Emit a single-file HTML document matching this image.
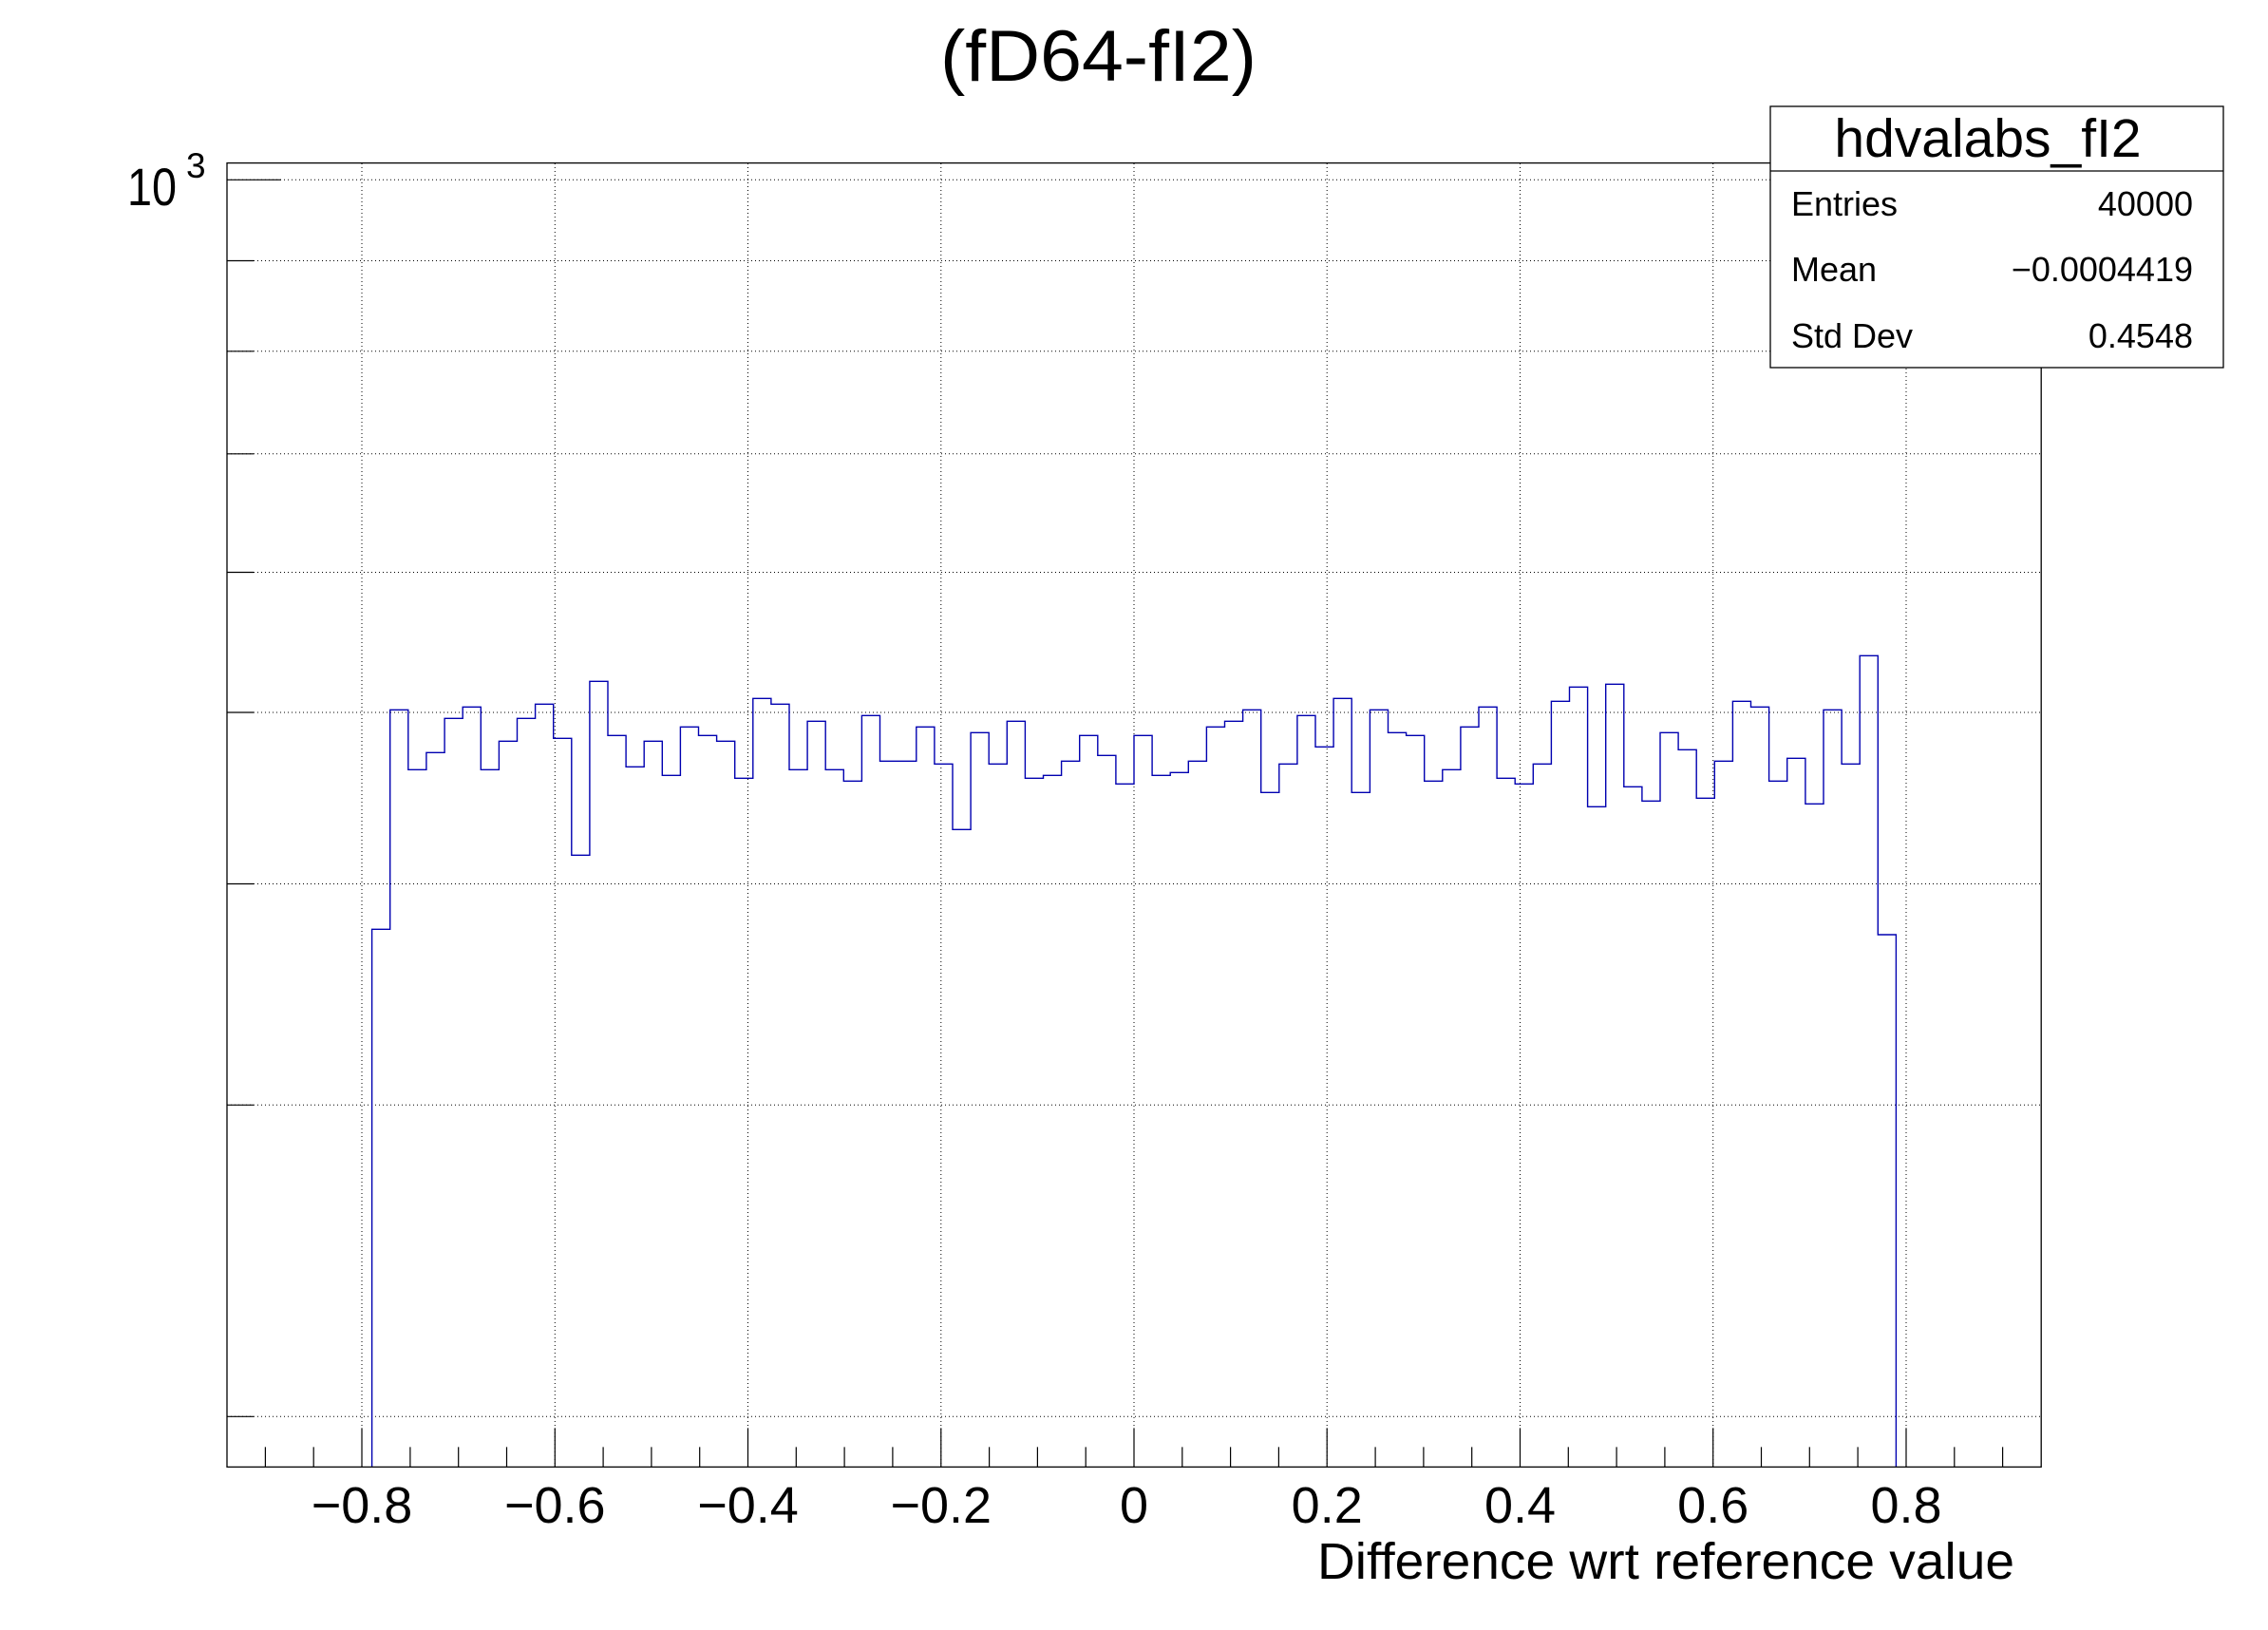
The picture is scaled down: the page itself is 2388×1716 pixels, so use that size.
<!DOCTYPE html>
<html>
<head>
<meta charset="utf-8">
<style>
html,body{margin:0;padding:0;background:#fff;}
svg{display:block;}
text{font-family:"Liberation Sans",Arial,sans-serif;fill:#000;}
</style>
</head>
<body>
<svg width="2388" height="1716" viewBox="0 0 2388 1716" xmlns="http://www.w3.org/2000/svg">
<rect x="0" y="0" width="2388" height="1716" fill="#fff"/>

<!-- Grid (dotted) -->
<g stroke="#000" stroke-width="1" stroke-dasharray="1 3" fill="none">
  <path d="M381,172V1544M584.3,172V1544M787.5,172V1544M990.8,172V1544M1194,172V1544M1397.2,172V1544M1600.5,172V1544M1803.7,172V1544M2007,172V1544"/>
  <path d="M239,189.3H2149M239,274.5H2149M239,369.8H2149M239,477.8H2149M239,602.5H2149M239,750H2149M239,930.5H2149M239,1163.3H2149M239,1491.3H2149"/>
</g>

<!-- Histogram -->
<path fill="none" stroke="#0000b0" stroke-width="1.4" d="M391.6,1544.4V978.3H410.7V747.3H429.8V810.3H448.9V792.3H468.1V756.3H487.2V744.3H506.3V810.3H525.4V780.3H544.5V756.3H563.6V741.3H582.7V777.3H601.8V900.3H620.9V717.3H640V774.3H659.1V807.3H678.2V780.3H697.3V816.3H716.4V765.3H735.5V774.3H754.6V780.3H773.7V819.3H792.8V735.3H811.9V741.3H831V810.3H850.1V759.3H869.2V810.3H888.3V822.3H907.4V753.3H926.5V801.3H945.6V801.3H964.8V765.3H983.9V804.3H1003V873.3H1022.1V771.3H1041.2V804.3H1060.3V759.3H1079.4V819.3H1098.5V816.3H1117.6V801.3H1136.7V774.3H1155.8V795.3H1174.9V825.3H1194V774.3H1213.1V816.3H1232.2V813.3H1251.3V801.3H1270.4V765.3H1289.5V759.3H1308.6V747.3H1327.7V834.3H1346.8V804.3H1365.9V753.3H1385V786.3H1404.1V735.3H1423.2V834.3H1442.4V747.3H1461.5V771.3H1480.6V774.3H1499.7V822.3H1518.8V810.3H1537.9V765.3H1557V744.3H1576.1V819.3H1595.2V825.3H1614.3V804.3H1633.4V738.3H1652.5V723.3H1671.6V849.3H1690.7V720.3H1709.8V828.3H1728.9V843.3H1748V771.3H1767.1V789.3H1786.2V840.3H1805.3V801.3H1824.4V738.3H1843.5V744.3H1862.6V822.3H1881.7V798.3H1900.9V846.3H1920V747.3H1939.1V804.3H1958.2V690.3H1977.3V984H1996.4V1544.4"/>

<!-- Frame -->
<rect x="239" y="171.6" width="1910.2" height="1372.8" fill="none" stroke="#000" stroke-width="1.3"/>

<!-- X ticks -->
<g stroke="#000" stroke-width="1.2" fill="none">
  <path d="M381,1544.4V1503.4M584.3,1544.4V1503.4M787.5,1544.4V1503.4M990.8,1544.4V1503.4M1194,1544.4V1503.4M1397.2,1544.4V1503.4M1600.5,1544.4V1503.4M1803.7,1544.4V1503.4M2007,1544.4V1503.4"/>
  <path d="M279.4,1544.4V1523.4M330.2,1544.4V1523.4M431.9,1544.4V1523.4M482.7,1544.4V1523.4M533.5,1544.4V1523.4M635.1,1544.4V1523.4M685.9,1544.4V1523.4M736.7,1544.4V1523.4M838.3,1544.4V1523.4M889.1,1544.4V1523.4M939.9,1544.4V1523.4M1041.6,1544.4V1523.4M1092.4,1544.4V1523.4M1143.2,1544.4V1523.4M1244.8,1544.4V1523.4M1295.6,1544.4V1523.4M1346.4,1544.4V1523.4M1448.1,1544.4V1523.4M1498.9,1544.4V1523.4M1549.7,1544.4V1523.4M1651.3,1544.4V1523.4M1702.1,1544.4V1523.4M1752.9,1544.4V1523.4M1854.5,1544.4V1523.4M1905.3,1544.4V1523.4M1956.1,1544.4V1523.4M2057.8,1544.4V1523.4M2108.6,1544.4V1523.4"/>
  <!-- Y ticks -->
  <path d="M239,189.3H296M239,274.5H267M239,369.8H267M239,477.8H267M239,602.5H267M239,750H267M239,930.5H267M239,1163.3H267M239,1491.3H267"/>
</g>

<!-- X tick labels -->
<g font-size="54" text-anchor="middle">
  <text x="381" y="1603">−0.8</text>
  <text x="584.3" y="1603">−0.6</text>
  <text x="787.5" y="1603">−0.4</text>
  <text x="990.8" y="1603">−0.2</text>
  <text x="1194" y="1603">0</text>
  <text x="1397.2" y="1603">0.2</text>
  <text x="1600.5" y="1603">0.4</text>
  <text x="1803.7" y="1603">0.6</text>
  <text x="2007" y="1603">0.8</text>
</g>

<!-- X axis title -->
<text x="1387" y="1662" font-size="54" textLength="734" lengthAdjust="spacingAndGlyphs">Difference wrt reference value</text>

<!-- Y label 10^3 -->
<text x="134" y="216" font-size="56" textLength="52" lengthAdjust="spacingAndGlyphs">10</text>
<text x="196" y="187" font-size="37">3</text>

<!-- Title -->
<text x="990" y="85" font-size="76" textLength="333" lengthAdjust="spacingAndGlyphs">(fD64-fI2)</text>

<!-- Stats box -->
<rect x="1864" y="112" width="477" height="275" fill="#fff" stroke="#000" stroke-width="1.3"/>
<line x1="1864" y1="180" x2="2341" y2="180" stroke="#000" stroke-width="1.3"/>
<text x="2093" y="165" font-size="57" text-anchor="middle">hdvalabs_fI2</text>
<g font-size="36">
  <text x="1886" y="227">Entries</text>
  <text x="2309" y="227" text-anchor="end">40000</text>
  <text x="1886" y="296">Mean</text>
  <text x="2309" y="296" text-anchor="end">−0.0004419</text>
  <text x="1886" y="366">Std Dev</text>
  <text x="2309" y="366" text-anchor="end">0.4548</text>
</g>
</svg>
</body>
</html>
